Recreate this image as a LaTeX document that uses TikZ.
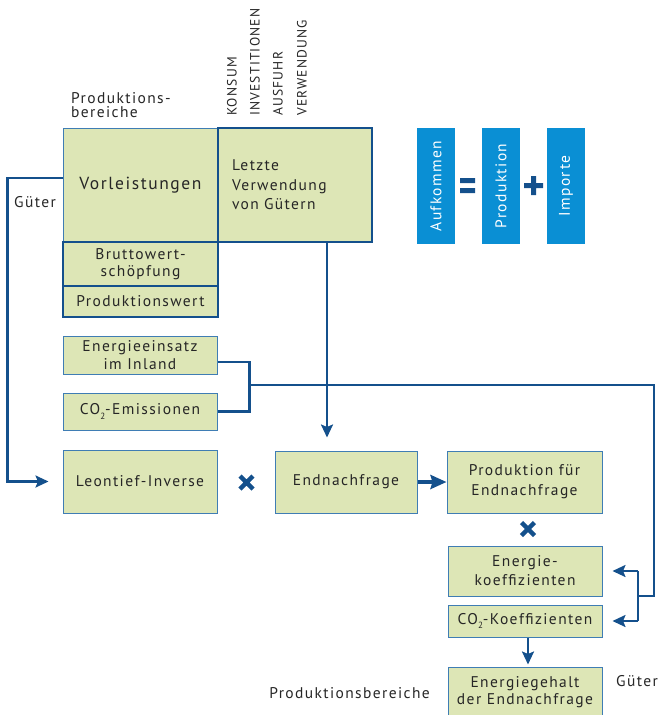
\documentclass[tikz,border=0pt]{standalone}
\usepackage{fontspec}
\setmainfont{PT Sans}[LetterSpace=9]
\usetikzlibrary{arrows.meta,calc}

\definecolor{boxgreen}{HTML}{DDE6B6}
\definecolor{thinblue}{HTML}{3F7DB4}
\definecolor{darkblue}{HTML}{14508C}
\definecolor{brightblue}{HTML}{0A8FD4}

\newcommand{\boxfont}{\fontsize{15.5}{18}\selectfont}
\newcommand{\bigfont}{\fontsize{17.5}{20}\selectfont}
\newcommand{\capsfont}{\fontsize{13.5}{15}\selectfont}
\newcommand{\cosub}{CO\raisebox{-0.55ex}{\fontsize{9}{9}\selectfont 2}}

\tikzset{
  box/.style={draw=thinblue, line width=1pt, fill=boxgreen, inner sep=0pt,
              align=center, font=\boxfont, text=black!85},
  thickbox/.style={box, draw=darkblue, line width=2.8pt},
  bluebox/.style={fill=brightblue, text=white, rotate=90, inner sep=0pt,
                  minimum width=116pt, minimum height=38pt, font=\boxfont},
  conn/.style={draw=darkblue, line width=2.3pt},
  arr/.style={-{Stealth[length=13pt,width=12pt,inset=2.5pt]}},
  bigarr/.style={draw=darkblue, line width=4.5pt, -{Stealth[length=16pt,width=14pt,inset=2pt]}},
  lbl/.style={inner sep=0pt, font=\boxfont, text=black!85},
  caps/.style={inner sep=0pt, font=\capsfont, rotate=90, anchor=west, text=black!85},
  times/.style={draw=darkblue, line width=4.5pt}
}

\begin{document}
\begin{tikzpicture}[x=1pt,y=-1pt]
\useasboundingbox (0,0) rectangle (662,715);

% headings of the table
\node[lbl, anchor=north west, align=left, font=\fontsize{15.5}{14.5}\selectfont] (hdr) at (71,92) {Produktions-\\bereiche};
\node[caps] (konsum) at (232,116) {KONSUM};
\node[caps] (invest) at (255,116) {INVESTITIONEN};
\node[caps] (ausfuhr) at (278,116) {AUSFUHR};
\node[caps] (verw) at (302,116) {VERWENDUNG};

% input-output table
\node[box, minimum width=155pt, minimum height=114pt, font=\bigfont] (vorl) at (140.5,185) {Vorleistungen};
\node[thickbox, minimum width=154pt, minimum height=114pt, text width=126pt, align=left,
      font=\fontsize{15.5}{19.5}\selectfont] (letzte) at (295,185) {Letzte\\Verwendung\\von Gütern};
\node[thickbox, minimum width=155pt, minimum height=44pt, font=\fontsize{15.5}{16.5}\selectfont] (brutto) at (140.5,264) {Bruttowert-\\schöpfung};
\node[thickbox, minimum width=155pt, minimum height=31pt] (pwert) at (140.5,301.5) {Produktionswert};
\node[lbl, anchor=west] (gueter) at (14,202) {Güter};

% supply identity
\node[bluebox] (aufk) at (436,186) {Aufkommen};
\node[bluebox] (prodb) at (501,186) {Produktion};
\node[bluebox] (impo) at (566,186) {Importe};
\fill[darkblue] (460,178) rectangle (475,183) (460,188) rectangle (475,193);
\fill[darkblue] (524,183) rectangle (543,188) (531,176) rectangle (536,195);

% energy and emission data
\node[box, minimum width=154pt, minimum height=38pt] (energ) at (140,355) {Energieeinsatz\\im Inland};
\node[box, minimum width=154pt, minimum height=37pt] (co2) at (140,411.5) {\cosub-Emissionen};

% calculation chain
\node[box, minimum width=154pt, minimum height=63pt] (leon) at (140,481.5) {Leontief-Inverse};
\node[box, minimum width=142pt, minimum height=62pt] (endn) at (346,482) {Endnachfrage};
\node[box, minimum width=155pt, minimum height=62pt, font=\fontsize{15.5}{20}\selectfont] (prod) at (524.5,482) {Produktion für\\Endnachfrage};
\node[box, minimum width=154pt, minimum height=50pt, font=\fontsize{15.5}{19}\selectfont] (ekoef) at (525,571) {Energie-\\koeffizienten};
\node[box, minimum width=154pt, minimum height=32pt] (co2k) at (525,621) {\cosub-Koeffizienten};
\node[box, minimum width=154pt, minimum height=50pt, font=\fontsize{15.5}{17}\selectfont] (egeh) at (525,692) {Energiegehalt\\der Endnachfrage};
\node[lbl, anchor=west] (gueter2) at (616,681) {Güter};
\node[lbl, anchor=east] (pber) at (430,693) {Produktionsbereiche};

% multiplication signs
\draw[times] (240,476) -- (253,489) (240,489) -- (253,476);
\draw[times] (521.5,522.5) -- (534.5,535.5) (521.5,535.5) -- (534.5,522.5);

% connectors
\draw[conn,arr,shorten >=14pt] ([yshift=7pt]vorl.west) -- ++(-55,0) |- (leon.west);
\coordinate (dn) at ($(letzte.south)+(32,0)$);
\draw[conn,arr,shorten >=13pt] (dn) -- (dn |- endn.north);
\draw[bigarr] (endn.east) -- (prod.west);

\draw[conn] ([yshift=-7pt]energ.east) -- ++(32,0) coordinate (ja) |- (co2.east);
\coordinate (jb) at ($(ja)+(0,23)$);
\draw[conn] (jb) -| (654,596) -- (638,596) coordinate (jc);
\draw[conn] (jc |- ekoef.east) -- (jc |- co2k.east);
\draw[conn,arr,shorten >=10pt] (jc |- ekoef.east) -- (ekoef.east);
\draw[conn,arr,shorten >=10pt] (jc |- co2k.east) -- (co2k.east);
\draw[conn,arr,shorten >=2pt] ([xshift=3pt]co2k.south) -- ([xshift=3pt]egeh.north);
\end{tikzpicture}
\end{document}
